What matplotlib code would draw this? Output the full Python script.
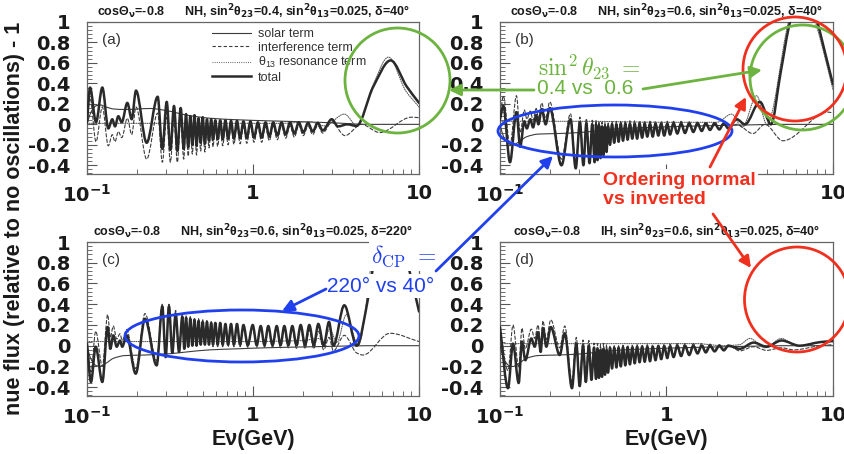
import numpy as np
import matplotlib
matplotlib.use("Agg")
import matplotlib.pyplot as plt
from matplotlib.path import Path
from matplotlib.patches import PathPatch, Ellipse, FancyArrowPatch
from matplotlib.lines import Line2D
from matplotlib.ticker import FixedLocator, FixedFormatter, MultipleLocator, LogLocator, NullFormatter

plt.rcParams.update({
    "font.family": ["Liberation Sans", "DejaVu Sans"],
    "mathtext.fontset": "custom",
    "mathtext.rm": "Liberation Sans",
    "mathtext.it": "Liberation Sans:italic",
    "mathtext.bf": "DejaVu Sans:bold",
})

# ---------------------------------------------------------------- data
# energies in GeV, values = nue flux relative to no oscillations, minus 1

# panel (a): NH, sin^2 theta23 = 0.4, delta = 40
A_OSC_E = [0.100, 0.1043, 0.1133, 0.1237, 0.1344, 0.1420, 0.1475, 0.1544, 0.1619, 0.1750, 0.1859,
           0.1973, 0.2288, 0.2666, 0.2843, 0.3022, 0.3178, 0.3343, 0.3500, 0.3667, 0.3826,
           0.395, 0.407, 0.419, 0.431, 0.444, 0.457, 0.470, 0.484, 0.498, 0.513, 0.528, 0.543, 0.560,
           0.574, 0.593, 0.6128, 0.6346, 0.657, 0.6819, 0.7079, 0.7372, 0.7673, 0.8008, 0.8362,
           0.8759, 0.9177, 0.9645, 1.014, 1.0696, 1.128, 1.189, 1.254, 1.325, 1.401, 1.485, 1.574,
           1.671, 1.774, 1.888, 2.009, 2.145, 2.289, 2.454, 2.630]
A_TOTAL_OSC = [0.02, 0.36, 0.02, 0.36, -0.04, 0.05, -0.02, 0.08, 0.02, 0.21, 0.05,
               0.33, -0.18, 0.27, -0.24, 0.22, -0.25, 0.18, -0.26, 0.16, -0.24,
               0.10, -0.22, 0.08, -0.20, 0.09, -0.21, 0.06, -0.18, 0.07, -0.19, 0.05, -0.16, 0.05,
               -0.15, 0.04, -0.145, 0.04, -0.145, 0.04, -0.14, 0.035, -0.14, 0.035, -0.135,
               0.03, -0.135, 0.03, -0.13, 0.02, -0.13, 0.02, -0.12, 0.02, -0.11, 0.02, -0.10,
               0.02, -0.09, 0.02, -0.08, 0.015, -0.07, 0.015, -0.06]
A_INTER_OSC = [0.01, 0.26, -0.17, 0.17, -0.21, -0.10, -0.17, -0.07, -0.13, 0.06, -0.10,
               0.17, -0.34, 0.11, -0.37, 0.07, -0.37, 0.04, -0.37, 0.04, -0.34,
               0.01, -0.31, -0.01, -0.29, 0.0, -0.30, -0.02, -0.26, -0.01, -0.27, -0.02, -0.23, -0.02,
               -0.22, -0.03, -0.215, -0.03, -0.21, -0.025, -0.20, -0.025, -0.195, -0.02, -0.19,
               -0.025, -0.185, -0.02, -0.175, -0.025, -0.175, -0.025, -0.16, -0.02, -0.15, -0.015, -0.135,
               -0.015, -0.125, -0.01, -0.11, -0.015, -0.10, -0.01, -0.085]
A_TOTAL_HI_E = [2.98, 3.25, 3.70, 4.20, 5.31, 6.75, 8.43, 10.0]
A_TOTAL_HI = [0.05, -0.02, 0.0, -0.015, 0.37, 0.625, 0.37, 0.21]
A_INTER_HI_E = [2.98, 3.58, 4.50, 5.80, 9.00, 10.0]
A_INTER_HI = [0.02, -0.11, 0.0, -0.08, 0.07, 0.065]
A_RESON_E = [0.1, 1.5, 2.2, 2.7, 3.55, 4.25, 5.25, 6.55, 8.30, 10.0]
A_RESON = [0.01, 0.01, 0.025, -0.015, 0.10, -0.015, 0.37, 0.657, 0.33, 0.17]
A_SOLAR_E = [0.1, 0.105, 0.113, 0.12, 0.13, 0.145, 0.17, 0.2, 0.24, 0.3, 0.4, 0.55, 0.8, 1.2,
             2.0, 3.0, 5.0, 10.0]
A_SOLAR = [0.0, 0.11, 0.18, 0.19, 0.17, 0.15, 0.145, 0.15, 0.155, 0.135, 0.09, 0.06, 0.045,
           0.035, 0.025, 0.015, 0.0, 0.0]

# solar term for sin^2 theta23 = 0.6 (panels b, c, d)
BCD_SOLAR_E = [0.1, 0.105, 0.113, 0.12, 0.13, 0.145, 0.17, 0.22, 0.3, 0.4, 0.55, 0.8, 1.2,
               2.0, 3.0, 5.0, 10.0]
BCD_SOLAR = [0.0, -0.12, -0.19, -0.2, -0.17, -0.12, -0.095, -0.09, -0.08, -0.06, -0.04, -0.03,
             -0.02, -0.012, -0.006, 0.0, 0.0]

# energies of the fast oscillation above 0.45 GeV, shared by panels (b) and (d)
BD_MID_E = [0.4579, 0.4707, 0.4852, 0.5002, 0.5156, 0.5315, 0.5480, 0.5657, 0.5840, 0.6029,
            0.6232, 0.6442, 0.6660, 0.6894, 0.7138, 0.7397, 0.7667, 0.7960, 0.8262, 0.8589,
            0.8929, 0.9295, 0.9688, 1.011, 1.050, 1.103, 1.161, 1.224, 1.291, 1.369, 1.449,
            1.536, 1.627, 1.722, 1.825, 1.945, 2.076, 2.209, 2.350]

# panel (b): NH, sin^2 theta23 = 0.6, delta = 40
B_LOW_E = [0.100, 0.1047, 0.1148, 0.1255, 0.1322, 0.1400, 0.1450, 0.1520, 0.1580, 0.1650, 0.1700,
           0.1780, 0.1880, 0.1990, 0.2340, 0.2650, 0.2850, 0.3020, 0.3170, 0.3300, 0.3450,
           0.3580, 0.3700, 0.3772, 0.3851, 0.3932, 0.4015, 0.4100, 0.4186, 0.4273, 0.4363, 0.4455]
B_TOTAL_LOW = [0.05, 0.18, -0.37, 0.12, -0.22, 0.03, -0.04, 0.05, -0.03, 0.09, 0.0,
               0.15, 0.0, 0.16, -0.40, 0.05, -0.43, 0.02, -0.40, 0.01, -0.38,
               0.0, -0.37, 0.0, -0.35, -0.01, -0.33, -0.02, -0.30, -0.02, -0.27, -0.02]
B_INTER_LOW = [0.02, 0.28, -0.21, 0.28, -0.08, 0.14, 0.05, 0.13, 0.04, 0.155, 0.065,
               0.21, 0.06, 0.22, -0.34, 0.105, -0.38, 0.07, -0.355, 0.055, -0.34,
               0.04, -0.335, 0.04, -0.31, 0.03, -0.29, 0.02, -0.26, 0.02, -0.23, 0.02]
B_TOTAL_MID = [-0.20, 0.0, -0.18, 0.0, -0.17, 0.005, -0.16, 0.005, -0.15, 0.005,
               -0.14, 0.005, -0.14, 0.005, -0.13, 0.005, -0.12, 0.005, -0.12, 0.005,
               -0.11, 0.005, -0.11, 0.005, -0.10, 0.01, -0.09, 0.01, -0.085, 0.01, -0.075,
               0.01, -0.065, 0.01, -0.055, 0.01, -0.05, 0.01, -0.04]
B_INTER_MID = [-0.165, 0.03, -0.145, 0.03, -0.135, 0.035, -0.125, 0.035, -0.115, 0.035,
               -0.105, 0.035, -0.105, 0.035, -0.095, 0.035, -0.085, 0.03, -0.085, 0.03,
               -0.08, 0.03, -0.08, 0.03, -0.075, 0.03, -0.07, 0.03, -0.065, 0.025, -0.06,
               0.025, -0.05, 0.02, -0.045, 0.02, -0.04, 0.015, -0.035]
B_TOTAL_HI_E = [2.64, 2.96, 3.64, 4.24, 4.84, 5.52, 6.60, 7.98, 8.96, 10.0]
B_TOTAL_HI = [0.05, 0.0, 0.22, 0.0, 0.5, 1.0, 1.35, 1.02, 0.70, 0.39]
B_INTER_HI_E = [2.64, 3.30, 3.90, 5.00, 9.30, 10.0]
B_INTER_HI = [0.0, -0.09, 0.0, -0.16, 0.12, 0.11]
B_RESON_E = [0.1, 0.3, 1.0, 2.0, 2.46, 2.85, 3.48, 4.0, 5.4, 6.4, 8.0, 10.0]
B_RESON = [0.03, 0.03, 0.02, 0.02, 0.10, -0.03, 0.28, 0.0, 1.0, 1.4, 0.95, 0.34]

# panel (c): NH, sin^2 theta23 = 0.6, delta = 220
C_OSC_E = [0.100, 0.1057, 0.1128, 0.1237, 0.1332, 0.1382, 0.1440, 0.1510, 0.1580, 0.1630, 0.1734,
           0.1965, 0.2236, 0.2628, 0.2843, 0.2978, 0.3117, 0.3264, 0.3420, 0.3584, 0.3751, 0.3857,
           0.395, 0.407, 0.419, 0.431, 0.444, 0.457, 0.470, 0.484, 0.498, 0.513, 0.528, 0.543, 0.560,
           0.574, 0.593, 0.6128, 0.6346, 0.657, 0.6819, 0.7079, 0.7372, 0.7673, 0.8008, 0.8362,
           0.8759, 0.930, 0.996, 1.053, 1.113, 1.173, 1.236, 1.311, 1.390, 1.464, 1.544, 1.632,
           1.725, 1.828, 1.938, 2.057, 2.184, 2.324, 2.474, 2.667, 2.870, 3.050, 3.548, 4.214]
C_TOTAL_OSC = [0.02, -0.35, -0.01, -0.35, 0.18, -0.03, 0.10, -0.01, 0.05, -0.01, 0.10,
               -0.27, 0.26, -0.19, 0.38, -0.11, 0.38, -0.07, 0.31, -0.06, 0.28, -0.03,
               0.27, -0.01, 0.26, 0.0, 0.25, 0.0, 0.24, 0.01, 0.23, 0.01, 0.23, 0.01, 0.22,
               0.01, 0.22, 0.01, 0.22, 0.01, 0.21, 0.01, 0.21, 0.01, 0.21, 0.01,
               0.20, 0.005, 0.20, 0.005, 0.19, 0.005, 0.19, 0.005, 0.19, 0.005, 0.19, 0.005,
               0.19, 0.005, 0.20, 0.005, 0.20, 0.005, 0.21, 0.0, 0.23, 0.0, 0.39, 0.0]
C_INTER_OSC = [-0.02, -0.25, 0.14, -0.20, 0.30, 0.08, 0.19, 0.065, 0.115, 0.05, 0.155,
               -0.22, 0.31, -0.145, 0.40, -0.07, 0.40, -0.035, 0.34, -0.03, 0.305, -0.005,
               0.29, 0.01, 0.28, 0.02, 0.27, 0.02, 0.26, 0.03, 0.25, 0.03, 0.25, 0.03, 0.24,
               -0.01, 0.20, -0.01, 0.20, -0.01, 0.19, -0.01, 0.19, -0.01, 0.19, -0.01,
               0.18, -0.015, 0.18, -0.015, 0.17, -0.015, 0.17, -0.015, 0.17, -0.02, 0.16, -0.02,
               0.16, -0.025, 0.16, -0.03, 0.15, -0.03, 0.14, -0.04, 0.08, -0.05, 0.10, -0.07]
C_TOTAL_HI_E = [4.95, 5.60, 6.70, 7.90, 9.55, 10.0]
C_TOTAL_HI = [0.47, 1.0, 1.35, 1.0, 0.47, 0.33]
C_INTER_HI_E = [4.60, 6.69, 10.0]
C_INTER_HI = [-0.09, 0.12, 0.04]
C_RESON_E = [0.1, 0.5, 1.0, 1.5, 2.0, 2.474, 2.667, 2.90, 3.20, 3.65, 4.30, 5.40, 6.40, 8.00, 10.0]
C_RESON = [0.04, 0.04, 0.04, 0.045, 0.05, 0.07, 0.04, 0.16, 0.03, 0.30, 0.0, 1.0, 1.4, 0.95, 0.34]

# panel (d): IH, sin^2 theta23 = 0.6, delta = 40
D_LOW_E = [0.100, 0.1117, 0.1197, 0.1295, 0.1355, 0.1419, 0.1542, 0.1616, 0.1692, 0.1755, 0.1812,
           0.1897, 0.2018, 0.2284, 0.2449, 0.2706, 0.2873, 0.3011, 0.3155, 0.3276, 0.3418,
           0.3543, 0.3672, 0.3772, 0.3851, 0.3932, 0.4015, 0.4100, 0.4186, 0.4273, 0.4363, 0.4455]
D_TOTAL_LOW = [0.18, -0.41, 0.02, -0.36, 0.04, -0.14, 0.07, -0.01, 0.13, -0.06, 0.17,
               -0.01, 0.18, -0.09, 0.12, -0.41, 0.02, -0.39, 0.0, -0.35, 0.0,
               -0.33, -0.02, -0.32, -0.03, -0.31, -0.04, -0.30, -0.03, -0.28, -0.04, -0.26]
D_INTER_LOW = [0.16, -0.24, 0.20, -0.21, 0.17, -0.03, 0.16, 0.07, 0.20, 0.01, 0.24,
               0.06, 0.25, -0.02, 0.19, -0.345, 0.08, -0.33, 0.055, -0.295, 0.05,
               -0.28, 0.025, -0.27, 0.02, -0.26, 0.01, -0.25, 0.02, -0.23, 0.01, -0.21]
D_TOTAL_MID = [-0.02, -0.22, -0.02, -0.21, -0.02, -0.20, -0.015, -0.19, -0.015, -0.18,
               -0.015, -0.17, -0.01, -0.16, -0.01, -0.155, -0.01, -0.15, -0.01, -0.14,
               -0.005, -0.13, -0.005, -0.12, -0.005, -0.11, 0.0, -0.10, 0.0, -0.09, 0.0,
               -0.075, 0.0, -0.065, 0.0, -0.055, 0.0, -0.045, 0.0]
D_INTER_MID = [0.0, -0.20, 0.0, -0.19, 0.0, -0.18, 0.005, -0.17, 0.005, -0.16,
               0.005, -0.15, 0.01, -0.14, 0.01, -0.135, 0.01, -0.13, 0.01, -0.12,
               0.015, -0.11, 0.015, -0.10, 0.015, -0.09, 0.02, -0.08, 0.02, -0.07, 0.02,
               -0.055, 0.02, -0.045, 0.015, -0.04, 0.01, -0.035, 0.005]
D_TOTAL_HI_E = [2.75, 3.34, 3.99, 4.91, 6.30, 8.40, 10.0]
D_TOTAL_HI = [-0.03, 0.03, -0.01, 0.05, 0.0, 0.035, 0.045]
D_INTER_HI_E = [2.75, 3.34, 3.99, 4.90, 5.80, 8.40, 10.0]
D_INTER_HI = [-0.05, -0.01, -0.045, -0.02, -0.04, 0.0, 0.01]
D_RESON_E = [0.1, 0.5, 1.0, 1.5, 2.2, 2.75, 3.17, 3.90, 4.90, 6.00, 8.00, 10.0]
D_RESON = [0.02, 0.02, 0.02, 0.02, 0.0, 0.01, 0.07, -0.02, 0.07, 0.0, 0.03, 0.04]

TITLES = [
    "cosΘ$_{\\mathbf{ν}}$=-0.8      NH, sin$^{\\mathbf{2}}$θ$_{\\mathbf{23}}$=0.4, "
    "sin$^{\\mathbf{2}}$θ$_{\\mathbf{13}}$=0.025, δ=40°",
    "cosΘ$_{\\mathbf{ν}}$=-0.8      NH, sin$^{\\mathbf{2}}$θ$_{\\mathbf{23}}$=0.6, "
    "sin$^{\\mathbf{2}}$θ$_{\\mathbf{13}}$=0.025, δ=40°",
    "cosΘ$_{\\mathbf{ν}}$=-0.8      NH, sin$^{\\mathbf{2}}$θ$_{\\mathbf{23}}$=0.6, "
    "sin$^{\\mathbf{2}}$θ$_{\\mathbf{13}}$=0.025, δ=220°",
    "cosΘ$_{\\mathbf{ν}}$=-0.8      IH, sin$^{\\mathbf{2}}$θ$_{\\mathbf{23}}$=0.6, "
    "sin$^{\\mathbf{2}}$θ$_{\\mathbf{13}}$=0.025, δ=40°",
]
PANEL_TAGS = ["(a)", "(b)", "(c)", "(d)"]
LEGEND_LABELS = ["solar term", "interference term", "θ$_{\\mathrm{13}}$ resonance term", "total"]
X_TICKS = [0.1, 1, 10]
X_TICK_LABELS = ["$\\mathbf{10^{-1}}$", "1", "10"]
# the "1" under panel (b) sits beneath the ordering label
X_TICK_LABELS_B = ["$\\mathbf{10^{-1}}$", "", "10"]
Y_TICKS = [-0.4, -0.2, 0, 0.2, 0.4, 0.6, 0.8, 1.0]
Y_TICK_LABELS = ["-0.4", "-0.2", "0", "0.2", "0.4", "0.6", "0.8", "1"]
X_LABEL = "Eν(GeV)"
Y_LABEL = "nue flux (relative to no oscillations) - 1"

# ---------------------------------------------------------------- styles
TOTAL = dict(color="#2a2a2a", lw=1.8, zorder=4)
SOLAR = dict(color="#3c3c3c", lw=0.8, zorder=3)
INTER = dict(color="#3c3c3c", lw=0.8, linestyle=(0, (3, 2)), zorder=3)
RESON = dict(color="#5c5c5c", lw=0.8, linestyle=(0, (0.8, 1.2)), zorder=3)
GREEN, RED, BLUE = "#6cb43f", "#f0301e", "#2040ee"
TICK_FONT = "DejaVu Sans"

W, H = 845, 454
fig = plt.figure(figsize=(W / 100, H / 100), dpi=100)
fig.patch.set_facecolor("white")


def fx(px):
    return px / W


def fy(py):
    return 1 - py / H


def draw_curve(ax, E, V, **style):
    """Smooth curve through the given points (flat at turning points), in log-x."""
    lx = np.log10(np.asarray(E, float))
    y = np.asarray(V, float)
    h = np.diff(lx)
    s = np.diff(y) / h
    m = np.zeros_like(y)
    m[0], m[-1] = s[0], s[-1]
    for i in range(1, len(y) - 1):
        if s[i - 1] * s[i] > 0:
            w1 = 2 * h[i] + h[i - 1]
            w2 = h[i] + 2 * h[i - 1]
            m[i] = (w1 + w2) / (w1 / s[i - 1] + w2 / s[i])
    verts = [(lx[0], y[0])]
    codes = [Path.MOVETO]
    for i in range(len(y) - 1):
        verts += [(lx[i] + h[i] / 3, y[i] + m[i] * h[i] / 3),
                  (lx[i + 1] - h[i] / 3, y[i + 1] - m[i + 1] * h[i] / 3),
                  (lx[i + 1], y[i + 1])]
        codes += [Path.CURVE4] * 3
    verts = np.array(verts)
    verts[:, 0] = 10 ** verts[:, 0]
    patch = PathPatch(Path(verts, codes), fill=False, capstyle="round",
                      joinstyle="round", **style)
    ax.add_patch(patch)


def setup(ax, tag, title, xlabels, bottom):
    ax.set_xscale("log")
    ax.set_xlim(0.1, 10)
    ax.set_ylim(-0.485, 1.0)
    ax.xaxis.set_major_locator(FixedLocator(X_TICKS))
    ax.xaxis.set_major_formatter(FixedFormatter(xlabels))
    ax.xaxis.set_minor_locator(LogLocator(base=10, subs=np.arange(2, 10)))
    ax.xaxis.set_minor_formatter(NullFormatter())
    ax.yaxis.set_major_locator(FixedLocator(Y_TICKS))
    ax.yaxis.set_major_formatter(FixedFormatter(Y_TICK_LABELS))
    ax.yaxis.set_minor_locator(MultipleLocator(0.04))
    ax.tick_params(which="both", direction="in", top=False, right=False,
                   color="#555555", labelcolor="#1a1a1a")
    ax.tick_params(which="major", length=7, width=0.8, labelsize=14)
    ax.tick_params(which="minor", length=3.5, width=0.6)
    ax.tick_params(axis="y", which="major", pad=12)
    ax.tick_params(axis="x", which="major", pad=7)
    for lab in ax.get_xticklabels() + ax.get_yticklabels():
        lab.set_fontweight("bold")
        lab.set_family(TICK_FONT)
    for sp in ax.spines.values():
        sp.set_color("#666666")
        sp.set_linewidth(0.9)
    ax.text(0.045, 0.88, tag, transform=ax.transAxes, fontsize=11, color="#333333",
            va="center", ha="left")
    ax.set_title(title, fontsize=9, fontweight="bold", pad=4, color="#1a1a1a")
    if bottom:
        ax.set_xlabel(X_LABEL, fontsize=15.5, fontweight="bold", color="#1a1a1a")
        ax.xaxis.set_label_coords(0.5, -(440 - 396) / 154)
        ax.xaxis.label.set_va("center")


ax_a = fig.add_axes([fx(87), fy(174), 332 / W, 152 / H])
ax_b = fig.add_axes([fx(500), fy(174), 333 / W, 152 / H])
ax_c = fig.add_axes([fx(87), fy(396), 332 / W, 154 / H])
ax_d = fig.add_axes([fx(500), fy(396), 333 / W, 154 / H])

# (a)
draw_curve(ax_a, A_SOLAR_E, A_SOLAR, **SOLAR)
draw_curve(ax_a, A_RESON_E, A_RESON, **RESON)
draw_curve(ax_a, A_OSC_E + A_INTER_HI_E, A_INTER_OSC + A_INTER_HI, **INTER)
draw_curve(ax_a, A_OSC_E + A_TOTAL_HI_E, A_TOTAL_OSC + A_TOTAL_HI, **TOTAL)

# (b)
draw_curve(ax_b, BCD_SOLAR_E, BCD_SOLAR, **SOLAR)
draw_curve(ax_b, B_RESON_E, B_RESON, **RESON)
draw_curve(ax_b, B_LOW_E + BD_MID_E + B_INTER_HI_E, B_INTER_LOW + B_INTER_MID + B_INTER_HI, **INTER)
draw_curve(ax_b, B_LOW_E + BD_MID_E + B_TOTAL_HI_E, B_TOTAL_LOW + B_TOTAL_MID + B_TOTAL_HI, **TOTAL)

# (c)
draw_curve(ax_c, BCD_SOLAR_E, BCD_SOLAR, **SOLAR)
draw_curve(ax_c, C_RESON_E, C_RESON, **RESON)
draw_curve(ax_c, C_OSC_E + C_INTER_HI_E, C_INTER_OSC + C_INTER_HI, **INTER)
draw_curve(ax_c, C_OSC_E + C_TOTAL_HI_E, C_TOTAL_OSC + C_TOTAL_HI, **TOTAL)

# (d)
draw_curve(ax_d, BCD_SOLAR_E, BCD_SOLAR, **SOLAR)
draw_curve(ax_d, D_RESON_E, D_RESON, **RESON)
draw_curve(ax_d, D_LOW_E + BD_MID_E + D_INTER_HI_E, D_INTER_LOW + D_INTER_MID + D_INTER_HI, **INTER)
draw_curve(ax_d, D_LOW_E + BD_MID_E + D_TOTAL_HI_E, D_TOTAL_LOW + D_TOTAL_MID + D_TOTAL_HI, **TOTAL)

for ax, tag, title, xl, bottom in zip([ax_a, ax_b, ax_c, ax_d], PANEL_TAGS, TITLES,
                                      [X_TICK_LABELS, X_TICK_LABELS_B, X_TICK_LABELS, X_TICK_LABELS],
                                      [False, False, True, True]):
    setup(ax, tag, title, xl, bottom)

handles = [Line2D([], [], color=SOLAR["color"], lw=SOLAR["lw"]),
           Line2D([], [], color=INTER["color"], lw=INTER["lw"], linestyle=INTER["linestyle"]),
           Line2D([], [], color=RESON["color"], lw=RESON["lw"], linestyle=RESON["linestyle"]),
           Line2D([], [], color=TOTAL["color"], lw=TOTAL["lw"])]
leg = ax_a.legend(handles, LEGEND_LABELS, loc="upper left", bbox_to_anchor=(0.376, 0.96),
                  frameon=False, fontsize=9, handlelength=3.1, handletextpad=0.6,
                  labelspacing=0.12, borderpad=0, borderaxespad=0)
for t in leg.get_texts():
    t.set_color("#333333")

fig.text(fx(15), fy(218), Y_LABEL, rotation=90, fontsize=15.5, fontweight="bold",
         ha="center", va="center", color="#1a1a1a")

# ---------------------------------------------------------------- annotations
def ring(cx, cy, r, color):
    fig.add_artist(Ellipse((fx(cx), fy(cy)), 2 * r / W, 2 * r / H, transform=fig.transFigure,
                           fill=False, edgecolor=color, lw=2.0, zorder=6))


def oval(cx, cy, rx, ry, color):
    fig.add_artist(Ellipse((fx(cx), fy(cy)), 2 * rx / W, 2 * ry / H, transform=fig.transFigure,
                           fill=False, edgecolor=color, lw=2.0, zorder=6))


def arrow(x0, y0, x1, y1, color):
    fig.add_artist(FancyArrowPatch((fx(x0), fy(y0)), (fx(x1), fy(y1)),
                                   transform=fig.transFigure, arrowstyle="-|>",
                                   mutation_scale=17, color=color, lw=2.0,
                                   shrinkA=0, shrinkB=0, zorder=8))


WHITE_BOX = dict(facecolor="white", edgecolor="none", pad=2)

ring(397.5, 80.5, 52.5, GREEN)
ring(802.5, 77.5, 52.5, GREEN)
ring(795, 69, 52, RED)
ring(797, 299.5, 52.5, RED)
oval(615, 131, 117, 26, BLUE)
oval(242, 336, 117, 26, BLUE)

fig.text(fx(589), fy(67), r"$\sin^2\theta_{23}\ =$", fontsize=17, color=GREEN,
         ha="center", va="center", math_fontfamily="cm", zorder=7)
fig.text(fx(585), fy(89), "0.4 vs  0.6", fontsize=15, color=GREEN,
         ha="center", va="center", zorder=7)
arrow(534, 90, 449, 90, GREEN)
arrow(643, 89, 762, 70, GREEN)

fig.text(fx(603), fy(172), "Ordering normal\nvs inverted", fontsize=14, fontweight="bold",
         color=RED, ha="left", va="top", linespacing=1.15, bbox=WHITE_BOX, zorder=7)
arrow(710, 167, 746, 97, RED)
arrow(713, 214, 751, 268, RED)

fig.text(fx(404), fy(256), r"$\delta_{\rm CP}\ =$", fontsize=17, color=BLUE,
         ha="center", va="center", math_fontfamily="cm", bbox=WHITE_BOX, zorder=7)
fig.text(fx(381), fy(286), "220° vs 40°", fontsize=15, color=BLUE,
         ha="center", va="center", bbox=WHITE_BOX, zorder=7)
arrow(436, 271, 553, 156, BLUE)
arrow(326, 289, 282, 311, BLUE)

fig.savefig("out.png", dpi=100, facecolor="white")
